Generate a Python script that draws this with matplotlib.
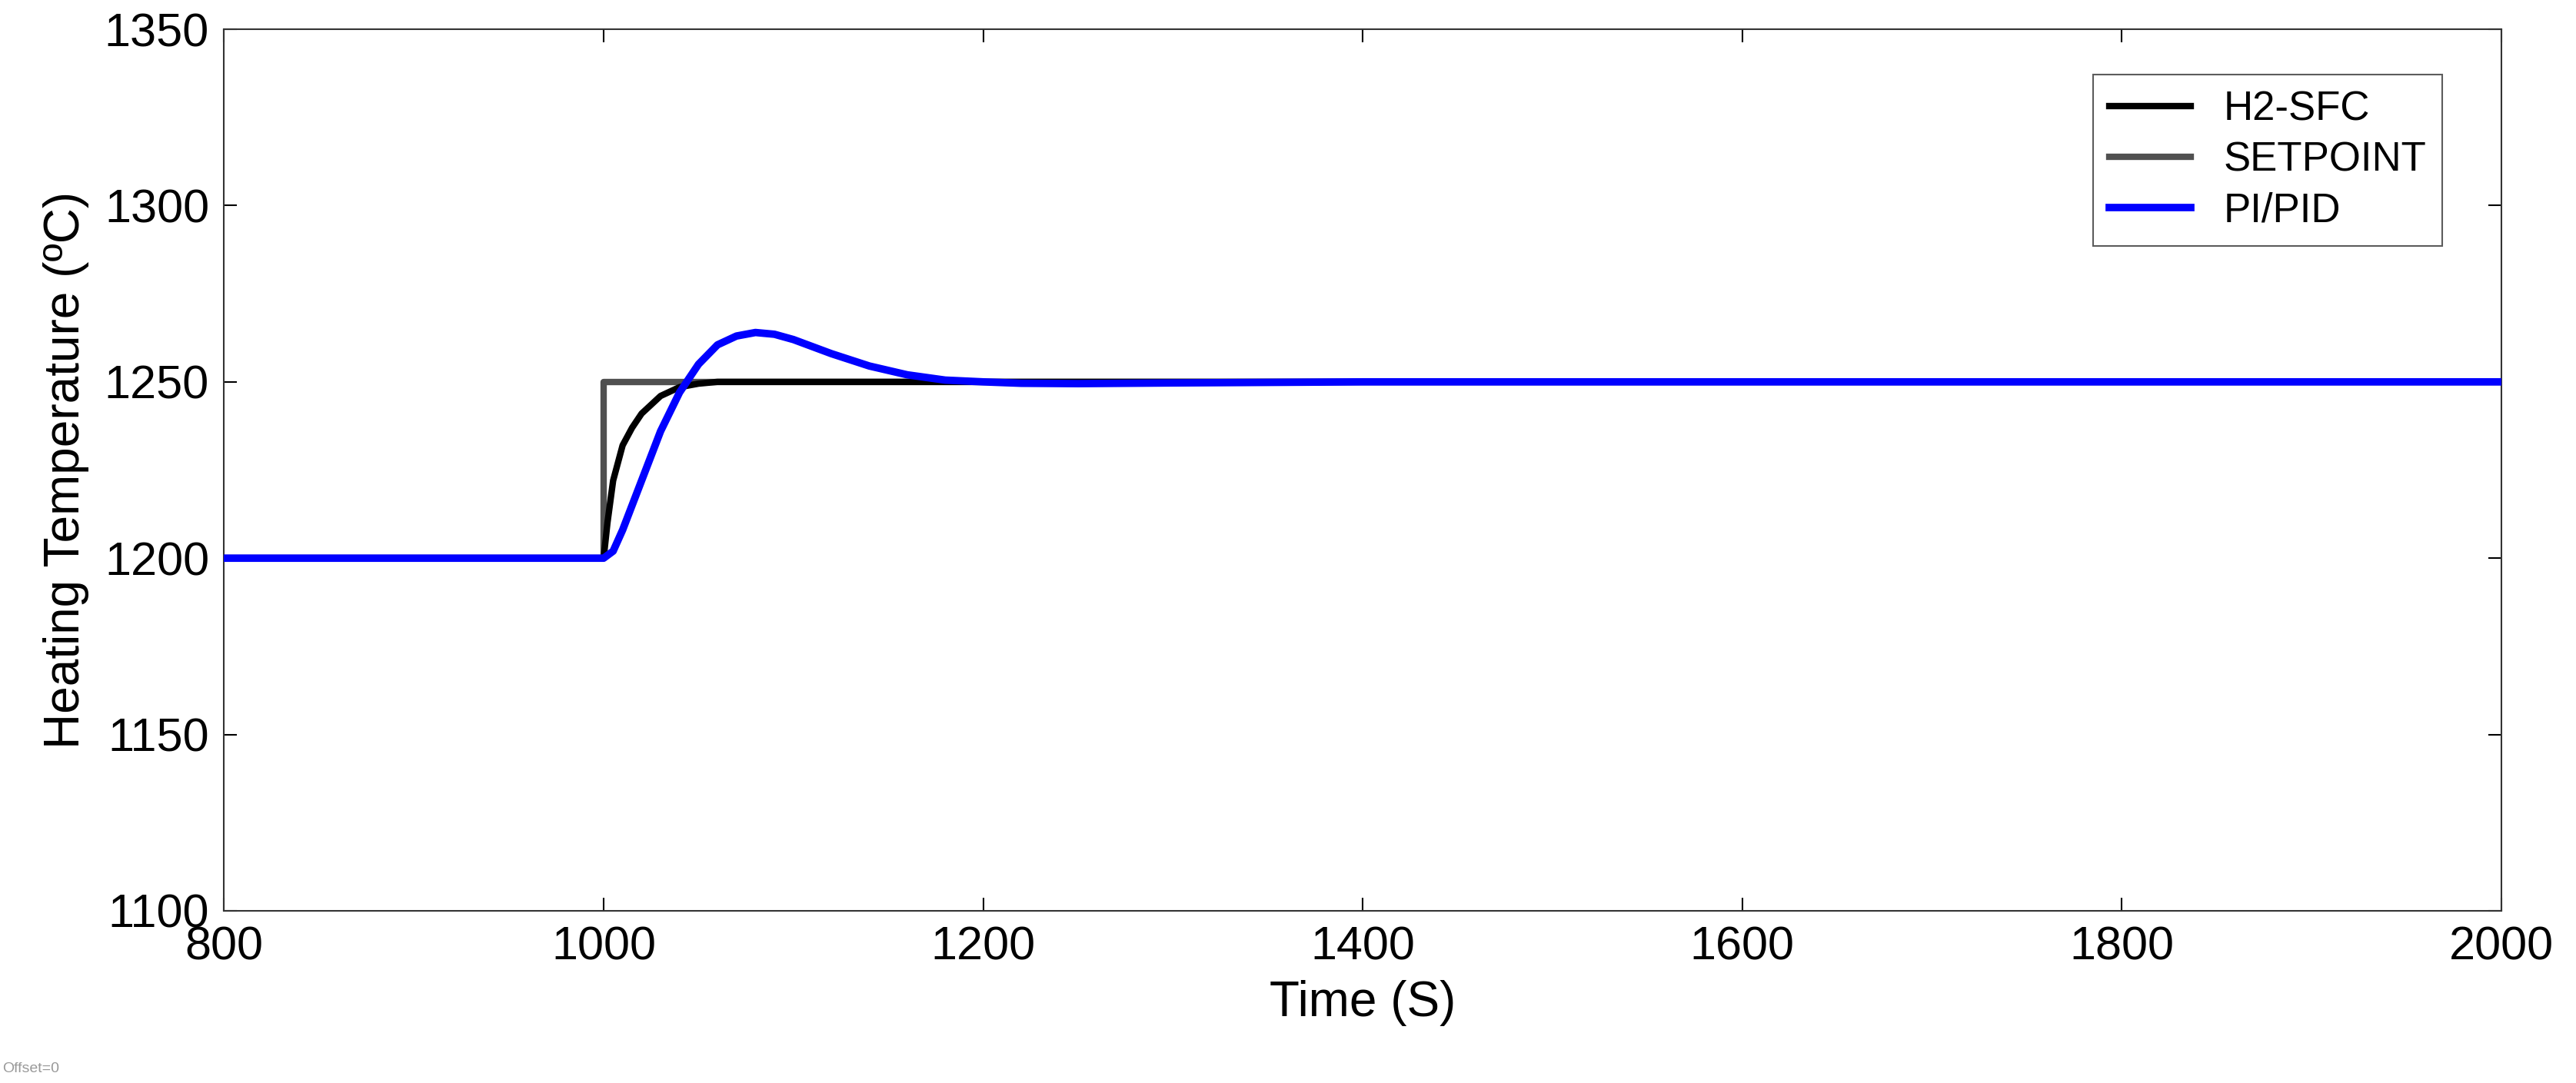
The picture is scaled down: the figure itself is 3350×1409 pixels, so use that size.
import matplotlib
matplotlib.use("Agg")
import matplotlib.pyplot as plt

plt.rcParams['font.family'] = ['Liberation Sans', 'DejaVu Sans']

t_sp = [800, 1000, 1000, 2000]
y_sp = [1200, 1200, 1250, 1250]

t_h2 = [800, 1000, 1002, 1005, 1010, 1015, 1020, 1030, 1040, 1050, 1060, 1100, 2000]
y_h2 = [1200, 1200, 1210, 1222, 1232, 1237, 1241, 1246, 1248.5, 1249.5, 1250, 1250, 1250]

t_pi = [800, 1000, 1005, 1010, 1020, 1030, 1040, 1050, 1060, 1070, 1080, 1090, 1100,
        1120, 1140, 1160, 1180, 1200, 1220, 1250, 1300, 1400, 2000]
y_pi = [1200, 1200, 1202, 1208, 1222, 1236, 1247, 1255, 1260.5, 1263, 1264, 1263.5, 1262,
        1258, 1254.5, 1252, 1250.5, 1250, 1249.6, 1249.5, 1249.7, 1250, 1250]

fig = plt.figure(figsize=(33.5, 14.09), dpi=100)
ax = fig.add_axes([0.087, 0.159, 0.884, 0.814])
ax.plot(t_sp, y_sp, color='#505050', lw=6, label='SETPOINT', zorder=2)
ax.plot(t_h2, y_h2, color='black', lw=6, label='H2-SFC', zorder=3)
ax.plot(t_pi, y_pi, color='#0000ff', lw=7, label='PI/PID', zorder=4)
ax.set_xlim(800, 2000)
ax.set_ylim(1100, 1350)
ax.set_xticks(range(800, 2001, 200))
ax.set_yticks(range(1100, 1351, 50))
ax.tick_params(labelsize=44, direction='in', length=12, width=1.5, top=True, right=True, pad=14)
for s in ax.spines.values():
    s.set_linewidth(1.5)
    s.set_color('#333333')
ax.set_xlabel('Time (S)', fontsize=46, labelpad=10)
ax.set_ylabel('Heating Temperature (ºC)', fontsize=46, labelpad=14)
h, l = ax.get_legend_handles_labels()
order = [1, 0, 2]
leg = ax.legend([h[i] for i in order], [l[i] for i in order], loc='upper right',
                bbox_to_anchor=(0.983, 0.972), fontsize=38, fancybox=False,
                edgecolor='#333333', handlelength=2.0, borderpad=0.4, labelspacing=0.3)
leg.get_frame().set_linewidth(1.5)
fig.text(0.001, 0.01, 'Offset=0', fontsize=14, color='#999999')
fig.savefig('out.png', dpi=100)
